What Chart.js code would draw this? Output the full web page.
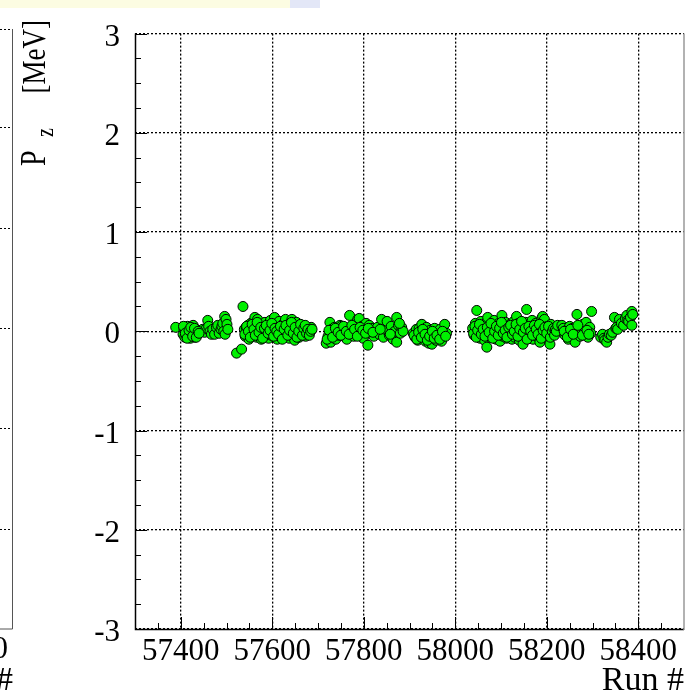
<!DOCTYPE html>
<html>
<head>
<meta charset="utf-8">
<title>Pz vs run</title>
<script src="https://cdn.jsdelivr.net/npm/chart.js"></script>
<style>
  html, body { margin: 0; padding: 0; background: #fff; }
  canvas { display: block; }
</style>
</head>
<body>
<canvas id="chart" width="696" height="699"></canvas>
<script>
// axis ticks
const xTicks = [57400, 57600, 57800, 58000, 58200, 58400];
const xTickLabels = ['57400', '57600', '57800', '58000', '58200', '58400'];
const yTicks = [-3, -2, -1, 0, 1, 2, 3];
const yTickLabels = ['-3', '-2', '-1', '0', '1', '2', '3'];

// run period 1
const runs1 = [57389, 57405, 57407, 57409, 57411, 57413, 57415, 57417, 57419, 57421,
  57423, 57425, 57427, 57429, 57431, 57433, 57436, 57448, 57452, 57456,
  57459, 57461, 57464, 57467, 57470, 57474, 57478, 57481, 57484, 57488,
  57490, 57492, 57494, 57496, 57497, 57499, 57501, 57503,
  57406, 57410, 57414, 57418, 57422, 57426, 57430, 57434, 57438, 57440];
const pz1 = [0.04, -0.03, 0.02, -0.06, 0.00, -0.05, 0.05, -0.02, 0.03, -0.07,
  0.01, -0.04, 0.06, -0.01, -0.06, 0.02, -0.03, 0.02, -0.01, 0.03,
  0.11, 0.05, 0.00, -0.03, 0.02, -0.03, 0.04, 0.06, -0.02, 0.02,
  0.05, 0.08, 0.00, 0.15, -0.03, 0.12, 0.07, 0.02,
  0.05, -0.02, -0.07, 0.01, 0.04, -0.05, 0.03, -0.06, 0.00, -0.02];

// run period 2
const runs2 = [57522, 57533, 57536, 57539, 57541, 57543, 57545, 57547, 57549, 57551,
  57553, 57555, 57557, 57559, 57561, 57562, 57564, 57566, 57568, 57570,
  57572, 57574, 57576, 57578, 57580, 57582, 57584, 57586, 57588, 57590,
  57592, 57594, 57596, 57598, 57600, 57602, 57605, 57607, 57609, 57611,
  57613, 57615, 57617, 57619, 57621, 57623, 57625, 57627, 57629, 57631,
  57633, 57635, 57637, 57639, 57641, 57643, 57645, 57647, 57649, 57651,
  57653, 57655, 57657, 57659, 57661, 57663, 57665, 57667, 57670, 57673,
  57676, 57679, 57682, 57685,
  57540, 57544, 57548, 57552, 57556, 57560, 57563, 57567, 57571, 57575,
  57579, 57583, 57587, 57591, 57595, 57599, 57603, 57606, 57610, 57614,
  57618, 57622, 57626, 57630, 57634, 57638, 57642, 57646, 57650, 57654,
  57658, 57662, 57666, 57669, 57672, 57675, 57678, 57681, 57684, 57687];
const pz2 = [-0.22, -0.18, 0.25, 0.02, -0.05, 0.04, -0.02, 0.06, -0.08, 0.01,
  0.08, -0.04, 0.03, 0.10, -0.01, 0.14, 0.05, -0.06, 0.12, 0.00,
  -0.03, 0.07, -0.08, 0.04, 0.01, -0.05, 0.09, 0.02, -0.02, 0.06,
  -0.07, 0.03, 0.11, -0.04, 0.00, 0.08, 0.14, -0.03, 0.05, -0.08,
  0.02, 0.10, -0.05, 0.04, -0.01, 0.07, -0.06, 0.03, 0.12, -0.02,
  0.05, 0.00, -0.07, 0.08, 0.02, 0.12, -0.04, 0.06, -0.09, 0.03,
  0.09, -0.02, 0.04, -0.06, 0.06, 0.01, -0.03, 0.05, 0.02, -0.05,
  0.03, -0.01, 0.01, 0.04,
  -0.03, 0.05, 0.00, -0.06, 0.07, 0.02, -0.04, 0.09, -0.01, 0.04,
  -0.07, 0.03, 0.06, -0.02, 0.01, 0.08, -0.05, 0.03, 0.00, -0.03,
  0.05, -0.08, 0.02, 0.06, -0.04, 0.01, 0.09, -0.02, 0.04, -0.06,
  0.00, 0.07, -0.04, 0.03, 0.06, -0.02, 0.02, -0.04, 0.00, 0.02];

// run period 3
const runs3 = [57718, 57722, 57726, 57728, 57730, 57733, 57736, 57739, 57742, 57745,
  57748, 57751, 57754, 57757, 57760, 57763, 57766, 57769, 57772, 57775,
  57778, 57781, 57784, 57787, 57790, 57793, 57796, 57799, 57802, 57805,
  57809, 57812, 57815, 57818, 57822, 57826, 57830, 57834, 57839, 57843,
  57847, 57851, 57856, 57860, 57864, 57868, 57872, 57872, 57876, 57880,
  57883, 57886,
  57720, 57724, 57732, 57738, 57744, 57750, 57756, 57762, 57768, 57774,
  57780, 57786, 57792, 57798, 57804, 57810, 57820, 57836, 57858, 57878];
const pz3 = [-0.12, -0.05, 0.09, -0.11, 0.02, -0.03, 0.04, -0.08, 0.01, -0.04,
  0.06, 0.05, -0.02, 0.03, -0.06, -0.08, 0.02, 0.16, -0.01, 0.04,
  -0.05, 0.07, 0.00, 0.12, 0.13, -0.03, 0.05, -0.07, 0.02, 0.08,
  -0.14, 0.06, -0.02, 0.03, -0.05, 0.01, 0.04, -0.03, 0.12, -0.06,
  0.02, 0.10, -0.04, 0.05, -0.08, 0.00, 0.14, -0.11, 0.06, -0.02,
  0.04, 0.00,
  -0.08, 0.01, -0.06, 0.03, -0.01, -0.04, 0.05, 0.00, -0.03, 0.06,
  0.02, -0.05, 0.04, 0.01, -0.02, 0.03, -0.01, 0.02, -0.03, 0.08];

// run period 4
const runs4 = [57908, 57912, 57915, 57918, 57921, 57924, 57927, 57930, 57932, 57935,
  57937, 57940, 57942, 57945, 57947, 57949, 57952, 57955, 57958, 57961,
  57964, 57967, 57970, 57974, 57977, 57981,
  57910, 57916, 57920, 57926, 57929, 57934, 57939, 57944, 57950, 57954,
  57960, 57966, 57972, 57979];
const pz4 = [-0.02, -0.06, 0.02, -0.09, 0.03, -0.04, 0.07, -0.07, 0.00, -0.10,
  0.04, -0.05, -0.12, 0.01, -0.08, -0.13, -0.03, 0.03, -0.09, -0.01,
  -0.06, 0.02, -0.10, -0.04, 0.07, -0.02,
  -0.04, -0.08, -0.01, -0.06, 0.02, -0.03, -0.09, -0.05, 0.00, -0.07,
  -0.04, -0.08, 0.00, -0.05];

// run period 5
const runs5 = [58038, 58041, 58044, 58047, 58050, 58052, 58054, 58056, 58058, 58060,
  58062, 58064, 58066, 58068, 58069, 58071, 58073, 58075, 58077, 58079,
  58081, 58083, 58085, 58087, 58089, 58091, 58093, 58095, 58098, 58100,
  58102, 58104, 58106, 58108, 58110, 58112, 58114, 58116, 58118, 58120,
  58122, 58124, 58126, 58128, 58130, 58132, 58134, 58136, 58138, 58140,
  58142, 58144, 58146, 58148, 58150, 58152, 58154, 58156, 58158, 58160,
  58162, 58164, 58166, 58168, 58170, 58172, 58174, 58176, 58178, 58180,
  58182, 58185, 58187, 58189, 58191, 58193, 58195, 58197, 58199, 58201,
  58203, 58205, 58207, 58209, 58211, 58213,
  58040, 58043, 58046, 58049, 58053, 58057, 58061, 58065, 58070, 58074,
  58078, 58082, 58086, 58090, 58094, 58097, 58101, 58105, 58109, 58113,
  58117, 58121, 58125, 58129, 58133, 58137, 58141, 58145, 58149, 58153,
  58157, 58161, 58165, 58169, 58173, 58177, 58181, 58184, 58188, 58192,
  58196, 58200, 58204, 58208, 58212, 58215, 58217, 58219, 58221, 58224];
const pz5 = [0.03, -0.04, 0.08, 0.21, -0.02, 0.05, -0.07, 0.10, 0.01, -0.03,
  0.06, -0.09, 0.02, 0.09, -0.16, 0.14, -0.01, 0.04, -0.06, 0.07,
  0.00, -0.04, 0.11, 0.03, -0.08, 0.05, -0.02, 0.08, -0.10, 0.02,
  0.16, -0.05, 0.06, -0.01, 0.09, -0.07, 0.03, 0.00, -0.04, 0.07,
  -0.02, -0.08, 0.05, 0.10, -0.06, 0.01, 0.15, -0.03, 0.08, -0.09,
  0.04, 0.00, -0.05, -0.13, 0.06, -0.02, 0.09, 0.22, -0.07, 0.03,
  0.07, -0.04, 0.01, 0.11, -0.08, 0.05, -0.01, 0.08, -0.05, 0.02,
  0.06, -0.11, 0.04, 0.13, 0.15, -0.03, 0.12, 0.00, -0.06, 0.05,
  0.02, -0.02, -0.13, 0.07, -0.04, 0.01,
  -0.02, 0.05, -0.06, 0.01, 0.07, -0.03, 0.02, -0.05, 0.04, -0.01,
  0.08, -0.07, 0.00, 0.05, -0.04, 0.03, 0.09, -0.02, 0.01, -0.06,
  0.04, 0.06, -0.03, 0.00, 0.07, -0.05, 0.02, 0.10, -0.01, 0.03,
  -0.08, 0.05, 0.00, -0.04, 0.06, 0.02, -0.03, 0.07, -0.07, 0.01,
  0.04, -0.02, 0.05, -0.06, 0.00, 0.03, -0.04, 0.02, 0.00, 0.06];

// run period 6
const runs6 = [58233, 58236, 58240, 58243, 58247, 58250, 58253, 58256, 58259, 58262,
  58264, 58266, 58269, 58271, 58273, 58276, 58279, 58282, 58286, 58290,
  58294, 58296, 58298,
  58238, 58245, 58252, 58258, 58268, 58278, 58288, 58292];
const pz6 = [0.06, 0.03, -0.04, 0.01, -0.08, 0.05, -0.02, 0.03, -0.06, -0.11,
  0.00, 0.17, -0.03, 0.04, -0.05, 0.02, 0.07, -0.01, 0.09, -0.06,
  0.04, -0.02, 0.20,
  0.00, -0.06, 0.02, -0.03, 0.06, -0.04, 0.01, -0.03];

// run period 7
const runs7 = [58318, 58322, 58325, 58327, 58331, 58334, 58337, 58341, 58344, 58348,
  58351, 58353, 58355, 58359, 58363, 58368, 58372, 58375, 58377, 58379,
  58383, 58386, 58386, 58388];
const pz7 = [-0.06, -0.03, -0.07, -0.09, -0.11, -0.06, -0.03, -0.04, -0.01, 0.14,
  0.03, 0.04, 0.02, 0.12, 0.08, 0.06, 0.13, 0.16, 0.11, 0.10,
  0.14, 0.20, 0.06, 0.17];

const periods = [[runs1, pz1], [runs2, pz2], [runs3, pz3], [runs4, pz4],
  [runs5, pz5], [runs6, pz6], [runs7, pz7]];
const points = [];
periods.forEach(([r, p]) => r.forEach((run, i) => points.push({ x: run, y: p[i] })));

const serif = 'Liberation Serif';

// ROOT-like frame: inward ticks, axis lines, y title, page remnants
const frame = {
  id: 'frame',
  beforeDraw(chart) {
    const ctx = chart.ctx;
    ctx.save();
    ctx.fillStyle = '#fff';
    ctx.fillRect(0, 0, chart.width, chart.height);
    ctx.fillStyle = '#fcfce2';
    ctx.fillRect(0, 0, 290, 8);
    ctx.fillStyle = '#e3e7f7';
    ctx.fillRect(290, 0, 30, 8);

    // edge of the neighbouring pad
    const b = chart.chartArea.bottom;
    ctx.strokeStyle = '#000';
    ctx.lineWidth = 1;
    ctx.setLineDash([2, 2]);
    [29, 127, 228, 328, 428, 529].forEach(y => {
      ctx.beginPath(); ctx.moveTo(0, y + 0.5); ctx.lineTo(12, y + 0.5); ctx.stroke();
    });
    ctx.setLineDash([]);
    ctx.strokeStyle = '#555';
    ctx.beginPath(); ctx.moveTo(12.5, 29); ctx.lineTo(12.5, b); ctx.lineTo(0, b); ctx.stroke();
    ctx.fillStyle = '#000';
    ctx.font = '31px "' + serif + '"';
    ctx.textAlign = 'right';
    ctx.textBaseline = 'alphabetic';
    ctx.fillText('0', 8, 658);
    ctx.font = '34px "' + serif + '"';
    ctx.fillText('#', 13, 690);
    ctx.restore();
  },
  afterDraw(chart) {
    const ctx = chart.ctx;
    const { left, right, top, bottom } = chart.chartArea;
    const xs = chart.scales.x, ys = chart.scales.y;
    ctx.save();
    ctx.strokeStyle = '#000';
    ctx.lineWidth = 1;
    // y ticks
    for (let i = 0; i < yTicks.length; i++) {
      const v = yTicks[i];
      const py = Math.round(ys.getPixelForValue(v)) + 0.5;
      ctx.beginPath(); ctx.moveTo(left, py); ctx.lineTo(left + 12, py); ctx.stroke();
      if (i < yTicks.length - 1) {
        for (let k = 1; k < 4; k++) {
          const my = Math.round(ys.getPixelForValue(v + k * 0.25)) + 0.5;
          ctx.beginPath(); ctx.moveTo(left, my); ctx.lineTo(left + 6, my); ctx.stroke();
        }
      }
    }
    // x ticks
    for (let v = xs.min + 50; v < xs.max; v += 50) {
      const px = Math.round(xs.getPixelForValue(v)) + 0.5;
      const len = xTicks.includes(v) ? 12 : 6;
      ctx.beginPath(); ctx.moveTo(px, bottom); ctx.lineTo(px, bottom - len); ctx.stroke();
    }
    // axis lines
    ctx.lineWidth = 1.5;
    ctx.beginPath(); ctx.moveTo(left + 0.5, top); ctx.lineTo(left + 0.5, bottom + 0.5); ctx.lineTo(right, bottom + 0.5); ctx.stroke();
    ctx.strokeStyle = '#999';
    ctx.beginPath(); ctx.moveTo(right, top); ctx.lineTo(right, bottom + 1); ctx.stroke();

    // y title  P_z [MeV]
    ctx.translate(45, 20);
    ctx.scale(1.25, 1);
    ctx.rotate(-Math.PI / 2);
    ctx.fillStyle = '#000';
    ctx.textBaseline = 'alphabetic';
    ctx.textAlign = 'left';
    ctx.font = '28px "' + serif + '"';
    ctx.fillText('P', -146, 0);
    ctx.font = '20px "' + serif + '"';
    ctx.fillText('z', -117, 6);
    ctx.font = '27px "' + serif + '"';
    ctx.textAlign = 'right';
    ctx.fillText('[MeV]', 0, 0);
    ctx.restore();
  }
};

new Chart(document.getElementById('chart'), {
  type: 'scatter',
  data: {
    datasets: [{
      data: points,
      pointRadius: 5,
      pointBackgroundColor: '#00f000',
      pointBorderColor: '#000',
      pointBorderWidth: 1
    }]
  },
  options: {
    responsive: false,
    devicePixelRatio: 1,
    animation: false,
    events: [],
    layout: { padding: { left: 0, top: 16, right: 12, bottom: 0 } },
    plugins: { legend: { display: false }, tooltip: { enabled: false } },
    scales: {
      x: {
        type: 'linear',
        min: 57300,
        max: 58500,
        afterBuildTicks: s => { s.ticks = xTicks.map(v => ({ value: v })); },
        afterFit: s => { s.height = 70; },
        grid: { color: '#000', lineWidth: 1.3, drawTicks: false },
        border: { display: false, dash: [2, 2] },
        ticks: {
          color: '#000',
          padding: 4,
          maxRotation: 0,
          autoSkip: false,
          font: { family: serif, size: 31 },
          callback: (v, i) => xTickLabels[i]
        },
        title: {
          display: true,
          text: 'Run #',
          align: 'end',
          color: '#000',
          font: { family: serif, size: 34, lineHeight: 1 },
          padding: { top: 0, bottom: 1 }
        }
      },
      y: {
        type: 'linear',
        min: -3,
        max: 3,
        afterBuildTicks: s => { s.ticks = yTicks.map(v => ({ value: v })); },
        afterFit: s => { s.width = 135; },
        grid: { color: '#000', lineWidth: 1.3, drawTicks: false },
        border: { display: false, dash: [2, 2] },
        ticks: {
          color: '#000',
          padding: 15,
          labelOffset: 4,
          font: { family: serif, size: 31 },
          callback: (v, i) => yTickLabels[i]
        }
      }
    }
  },
  plugins: [frame]
});
</script>
</body>
</html>
